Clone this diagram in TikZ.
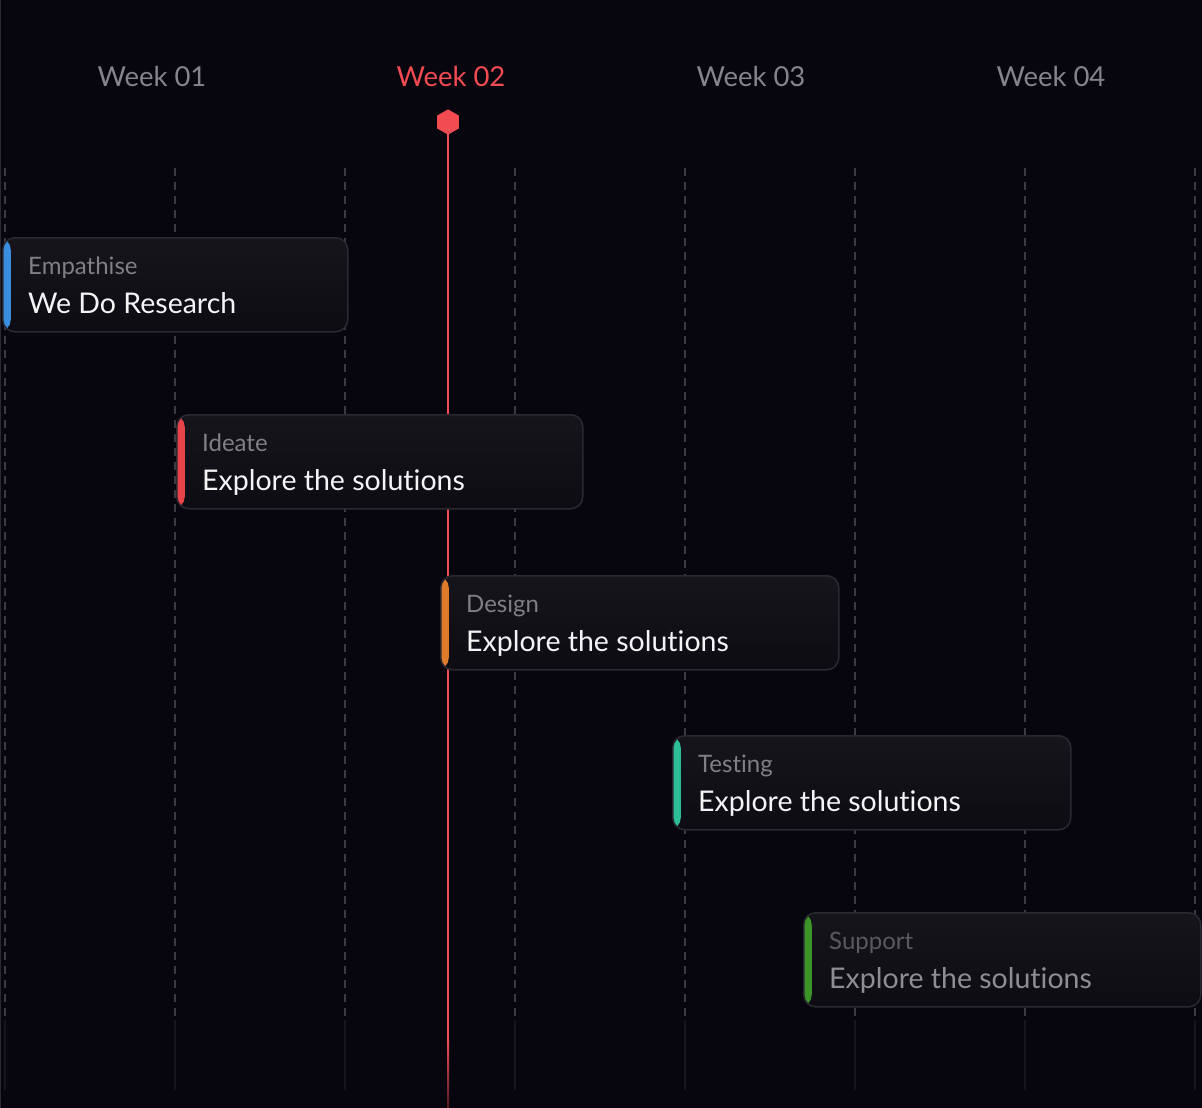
\documentclass[tikz,border=0pt]{standalone}
\usepackage{fontspec}
\setmainfont{Lato}[Ligatures=NoCommon]
\usetikzlibrary{positioning,shapes.geometric,calc}
\definecolor{bgdark}{HTML}{07060E}
\definecolor{weekgray}{HTML}{85848C}
\definecolor{nowred}{HTML}{F24B52}
\definecolor{guidegray}{HTML}{3A3A42}
\definecolor{guidefaint}{HTML}{16151D}
\definecolor{cardtop}{HTML}{16151B}
\definecolor{cardbot}{HTML}{0D0C13}
\definecolor{cardedge}{HTML}{2A2930}
\definecolor{labelgray}{HTML}{807F86}
\definecolor{titlewhite}{HTML}{F4F4F6}
\definecolor{labeldim}{HTML}{5A5960}
\definecolor{titledim}{HTML}{8E8D94}
\definecolor{accblue}{HTML}{3A8EE0}
\definecolor{accred}{HTML}{E8434B}
\definecolor{accorange}{HTML}{E07B2C}
\definecolor{accteal}{HTML}{2DBE98}
\definecolor{accgreen}{HTML}{3A9428}
\tikzset{
  week/.style={font=\fontsize{27.5}{33}\selectfont, text=weekgray, inner sep=0pt},
  guide/.style={draw=guidegray, line width=1.4pt, dash pattern=on 8pt off 6pt},
  guidefade/.style={draw=guidefaint, line width=1.4pt},
  nowline/.style={draw=nowred, line width=2pt},
  hexagon/.style={regular polygon, regular polygon sides=6, shape border rotate=30,
    fill=nowred, inner sep=0pt, minimum size=25pt},
  card/.style={draw=cardedge, line width=1.5pt, rounded corners=12pt,
    top color=cardtop, bottom color=cardbot, minimum height=94pt,
    anchor=north west, inner sep=0pt},
  phase/.style={font=\fontsize{24}{28}\selectfont, anchor=base west, inner sep=0pt},
  task/.style={font=\fontsize{28.5}{33}\selectfont, anchor=base west, inner sep=0pt},
}
\begin{document}
\begin{tikzpicture}[x=1pt,y=-1pt]
\fill[bgdark] (0,0) rectangle (1202,1108);
\useasboundingbox (0,0) rectangle (1202,1108);
\draw[cardedge, line width=1pt] (0.5,0) -- (0.5,1108);

% week headers
\node[week] (w1) at (152,76) {Week 01};
\node[week, text=nowred] (w2) at (451,76) {Week 02};
\node[week] (w3) at (751,76) {Week 03};
\node[week] (w4) at (1051,76) {Week 04};

% dashed guides
\foreach \i [evaluate=\i as \gx using 5+170*\i] in {0,...,7} {
  \coordinate (g\i-top) at (\gx,168);
  \coordinate (g\i-mid) at (\gx,1020);
  \coordinate (g\i-end) at (\gx,1090);
  \draw[guide] (g\i-top) -- (g\i-mid);
  \draw[guidefade] (g\i-mid) -- (g\i-end);
}

% today marker
\node[hexagon] (now) at (448,122) {};
\coordinate (nowfade) at (448,1040);
\draw[nowline] (now.center) -- (nowfade);
\shade[top color=nowred, bottom color=nowred!30!bgdark] (447,1040) rectangle (449,1108);
\node[hexagon] at (now) {};

% phase cards
\foreach \n/\x/\y/\w/\c/\pc/\tc/\l/\t in {
  emp/2/237/345/accblue/labelgray/titlewhite/Empathise/We Do Research,
  ide/176/414/406/accred/labelgray/titlewhite/Ideate/Explore the solutions,
  des/440/575/398/accorange/labelgray/titlewhite/Design/Explore the solutions,
  tst/672/735/398/accteal/labelgray/titlewhite/Testing/Explore the solutions,
  sup/803/912/397/accgreen/labeldim/titledim/Support/Explore the solutions} {
  \node[card, minimum width=\w pt,
    path picture={\fill[\c] (path picture bounding box.north west)
      rectangle ([xshift=8pt]path picture bounding box.south west);}] (\n) at (\x,\y) {};
  \node[phase, text=\pc] (\n-phase) at ([shift={(26,37)}]\n.north west) {\l};
  \node[task, text=\tc] (\n-task) at ([shift={(26,76)}]\n.north west) {\t};
}
\end{tikzpicture}
\end{document}
